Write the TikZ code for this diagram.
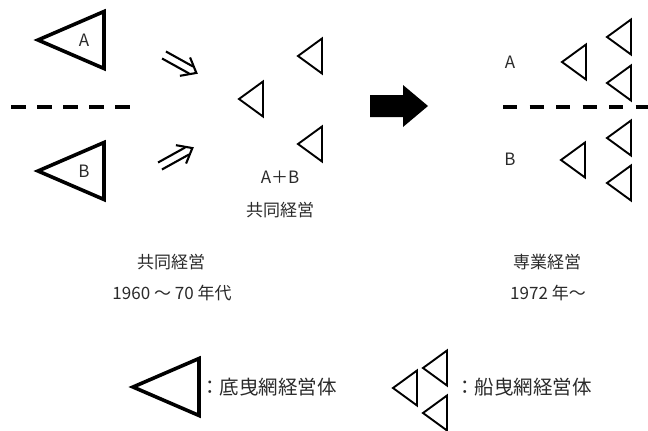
\documentclass[tikz,border=0pt]{standalone}
\usepackage{fontspec}
\setmainfont{Noto Sans CJK JP}
\definecolor{txt}{HTML}{2a2a2a}
\tikzset{
  txtnode/.style={text=txt,inner sep=0pt,font=\fontsize{17}{19}\selectfont},
  legtxt/.style={text=txt,inner sep=0pt,anchor=west,font=\fontsize{19.5}{22}\selectfont},
  bigtri/.style={line width=3.6pt,line join=miter,draw=black},
  smalltri/.style={line width=1.9pt,line join=miter,draw=black},
  dashline/.style={line width=4pt,dash pattern=on 15pt off 11pt},
  arrline/.style={line width=2.1pt,draw=black},
  pics/btri/.style={code={\draw[bigtri] (0,0) -- (66,-28.5) -- (66,28.5) -- cycle;}},
  pics/stri/.style={code={\draw[smalltri] (0,0) -- (24,-17.5) -- (24,17.5) -- cycle;}},
  pics/dblarr/.style={code={
    \draw[arrline] (0,4) -- (31,4) (0,-4) -- (31,-4);
    \draw[arrline,line join=miter] (24,10.5) -- (37,0) -- (24,-10.5);}}
}
\begin{document}
\begin{tikzpicture}[x=1pt,y=-1pt]
\useasboundingbox (0,0) rectangle (648,431);
% left big triangles
\pic at (38,40) {btri};
\node[txtnode] (la) at (84,40) {A};
\pic at (38,171) {btri};
\node[txtnode] (lb) at (84,171) {B};
\coordinate (dl1) at (11,107);
\coordinate (dl2) at (135,107);
\draw[dashline] (dl1) -- (dl2);
% double arrows
\coordinate (u1) at (164,55);
\coordinate (d1) at (160,166);
\pic[rotate=-29] at (u1) {dblarr};
\pic[rotate=29] at (d1) {dblarr};
% middle triangles
\pic at (298,56) {stri};
\pic at (239,99) {stri};
\pic at (298,144) {stri};
\node[txtnode] (ab) at (280,177) {A＋B};
\node[txtnode] (kk1) at (280,210) {共同経営};
% black arrow
\fill[black] (370,95) -- (403,95) -- (403,85) -- (428,106) -- (403,127) -- (403,117) -- (370,117) -- cycle;
% right side
\coordinate (dr1) at (503,107);
\coordinate (dr2) at (650,107);
\draw[dashline,dash pattern=on 14pt off 12.5pt] (dr1) -- (dr2);
\node[txtnode] (ra) at (510,62) {A};
\node[txtnode] (rb) at (510,159) {B};
\pic at (562,62) {stri};
\pic at (607,37) {stri};
\pic at (607,83) {stri};
\pic at (607,138) {stri};
\pic at (561,160) {stri};
\pic at (607,183) {stri};
% captions
\node[txtnode] (c1) at (171,262) {共同経営};
\node[txtnode] (c2) at (172,293) {1960 ～ 70 年代};
\node[txtnode] (c3) at (547,262) {専業経営};
\node[txtnode] (c4) at (548,293) {1972 年～};
% legend
\pic at (133,387) {btri};
\node[legtxt] (l1) at (200,387) {：底曳網経営体};
\pic at (393,388) {stri};
\pic at (423,368) {stri};
\pic at (423,413) {stri};
\node[legtxt] (l2) at (455,387) {：船曳網経営体};
\end{tikzpicture}
\end{document}
